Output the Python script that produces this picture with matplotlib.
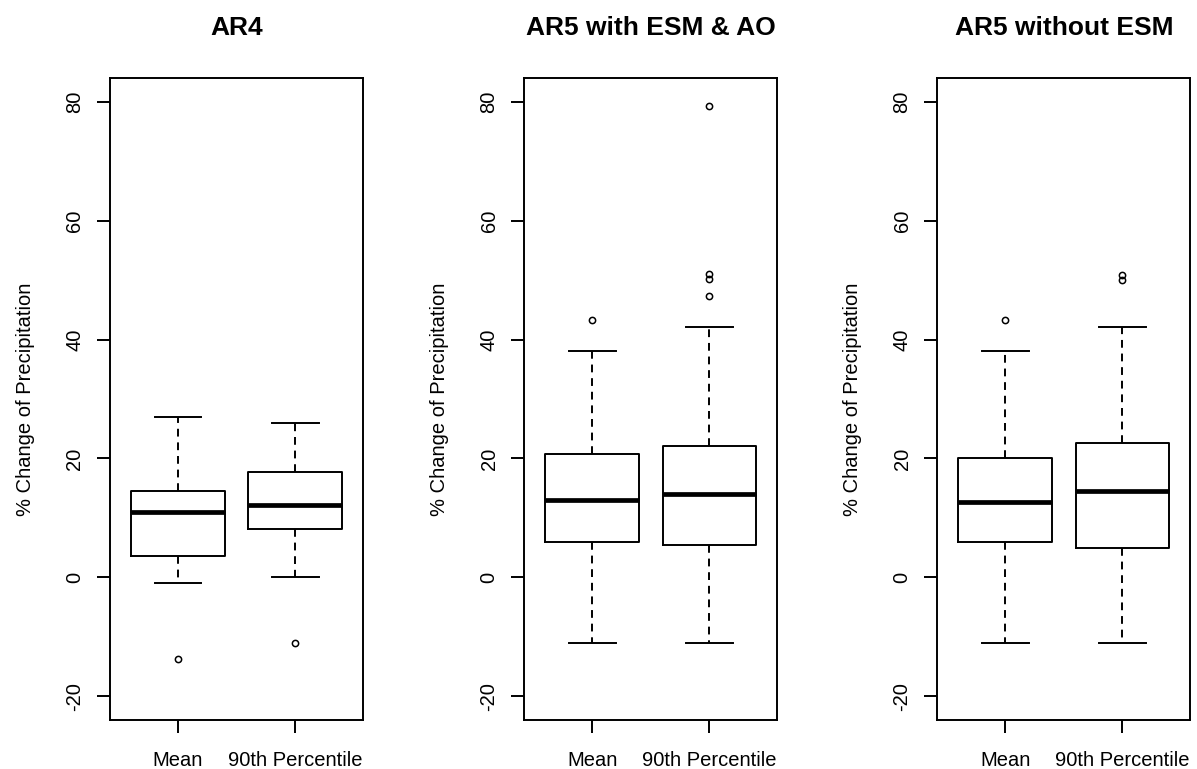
import matplotlib
matplotlib.use('Agg')
import matplotlib.pyplot as plt

plt.rcParams['font.family'] = ['Liberation Sans', 'DejaVu Sans']

########################################################
# values
titles = ['AR4', 'AR5 with ESM & AO', 'AR5 without ESM']
groups = ['Mean', '90th Percentile']

# whisker low, q1, median, q3, whisker high
ar4_mean = [-0.9, 3.6, 11.0, 14.6, 27.0]
ar4_p90 = [0.0, 8.1, 12.1, 17.7, 25.9]
ar5_mean = [-11.1, 6.0, 13.0, 20.7, 38.1]
ar5_p90 = [-11.1, 5.5, 14.0, 22.1, 42.1]
ar5n_mean = [-11.1, 6.0, 12.6, 20.0, 38.1]
ar5n_p90 = [-11.1, 5.0, 14.6, 22.6, 42.1]

ar4_mean_out = [-13.8]
ar4_p90_out = [-11.0]
ar5_mean_out = [43.2]
ar5_p90_out = [47.4, 50.2, 51.1, 79.2]
ar5n_mean_out = [43.2]
ar5n_p90_out = [50.0, 50.9]

yticks = [-20, 0, 20, 40, 60, 80]
########################################################


def make_stats(vals, outs, label):
    return dict(whislo=vals[0], q1=vals[1], med=vals[2], q3=vals[3],
                whishi=vals[4], fliers=outs, label=label)


panels = [
    [make_stats(ar4_mean, ar4_mean_out, groups[0]), make_stats(ar4_p90, ar4_p90_out, groups[1])],
    [make_stats(ar5_mean, ar5_mean_out, groups[0]), make_stats(ar5_p90, ar5_p90_out, groups[1])],
    [make_stats(ar5n_mean, ar5n_mean_out, groups[0]), make_stats(ar5n_p90, ar5n_p90_out, groups[1])],
]

fig = plt.figure(figsize=(11.97, 7.69), dpi=100)
lefts = [0.0919, 0.438, 0.783]
lw = 1.4

for k in range(3):
    ax = fig.add_axes([lefts[k], 0.0637, 0.2115, 0.835])
    ax.bxp(panels[k], positions=[1, 2], widths=0.8, showfliers=True,
           boxprops=dict(color='black', linewidth=lw),
           medianprops=dict(color='black', linewidth=3.4, solid_capstyle='butt'),
           whiskerprops=dict(color='black', linewidth=lw, linestyle=(0, (4, 3))),
           capprops=dict(color='black', linewidth=lw),
           capwidths=0.4,
           flierprops=dict(marker='o', markersize=4.5, markerfacecolor='none',
                           markeredgecolor='black', markeredgewidth=1.1, linestyle='none'))
    ax.set_xlim(0.42, 2.58)
    ax.set_ylim(-24, 84)
    ax.set_yticks(yticks)
    ax.set_yticklabels([str(v) for v in yticks], rotation=90, va='center', fontsize=14.5)
    ax.set_xticks([1, 2])
    ax.set_xticklabels(groups, fontsize=14.5)
    ax.tick_params(axis='y', length=9.5, width=lw, pad=9)
    ax.tick_params(axis='x', length=9.5, width=lw, pad=13)
    for s in ax.spines.values():
        s.set_linewidth(lw)
    ax.set_ylabel('% Change of Precipitation', fontsize=14.5, labelpad=22)
    ax.set_title(titles[k], fontsize=19, fontweight='bold', pad=31)

plt.savefig('out.png', dpi=100)
